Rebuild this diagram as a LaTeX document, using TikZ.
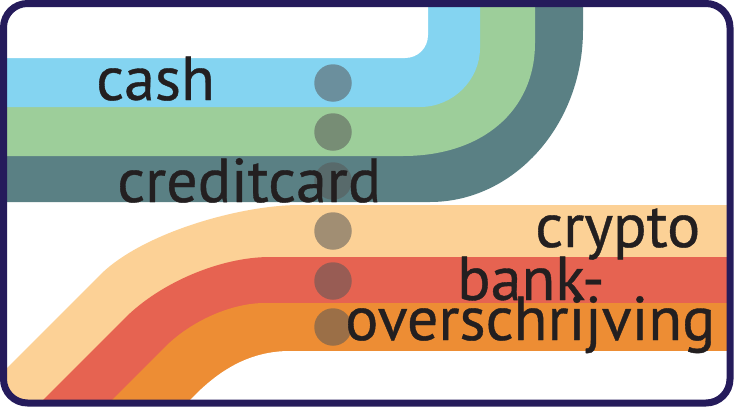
\documentclass[tikz,border=0pt]{standalone}
\usepackage{fontspec}
\setmainfont{PT Sans}
\newfontfamily\lblfont[FakeBold=0.6]{PT Sans}
\definecolor{cashc}{HTML}{84D4F1}
\definecolor{greenc}{HTML}{9DCE9A}
\definecolor{tealc}{HTML}{5A8084}
\definecolor{cryptoc}{HTML}{FCD196}
\definecolor{redc}{HTML}{E66351}
\definecolor{orangec}{HTML}{ED8D34}
\definecolor{framec}{HTML}{251B5B}
\definecolor{dotc}{HTML}{585858}
\definecolor{txtc}{HTML}{231F20}
\tikzset{
  lbl/.style={inner sep=0pt, anchor=base west, text=txtc, font=\lblfont\fontsize{62}{62}\selectfont},
  dotnode/.style={circle, minimum size=37.5pt, inner sep=0pt, fill=dotc, fill opacity=0.55},
  framebox/.style={draw=framec, line width=7pt, rounded corners=24pt}
}
\begin{document}
\begin{tikzpicture}[x=1pt,y=-1pt]
\useasboundingbox (0,0) rectangle (734,407);
\begin{scope}
\clip[rounded corners=24pt] (3.5,3.5) rectangle (730,403);
\fill[white] (0,0) rectangle (734,407);
% top bands
\fill[tealc] (-10,202) -- (430,202) .. controls (514,202) and (583,125) .. (583,30) -- (583,-10) -- (-10,-10) -- cycle;
\fill[greenc] (-10,156) -- (403,156) .. controls (482,156) and (535,111) .. (535,43) -- (535,-10) -- (-10,-10) -- cycle;
\fill[cashc] (-10,107) -- (420,107) .. controls (453,107) and (480,80) .. (480,48) -- (480,-10) -- (-10,-10) -- cycle;
\fill[white] (-10,58) -- (405,58) .. controls (418,58) and (428,48) .. (428,35) -- (428,-10) -- (-10,-10) -- cycle;
% bottom bands
\fill[cryptoc] (744,205) -- (300,205) .. controls (240,205) and (142,233) .. (100,275) -- (-50,425) -- (744,425) -- cycle;
\fill[redc] (744,257) -- (270,257) .. controls (220,257) and (160,283) .. (125,318) -- (0,443) -- (744,443) -- cycle;
\fill[orangec] (744,303) -- (265,303) .. controls (230,303) and (190,322) .. (165,347) -- (80,432) -- (744,432) -- cycle;
\fill[white] (744,351) -- (290,351) .. controls (250,351) and (220,370) .. (195,395) -- (170,420) -- (744,420) -- cycle;
\end{scope}
% dots
\node[dotnode] (d1) at (333,83) {};
\node[dotnode] (d2) at (333,132) {};
\node[dotnode] (d3) at (333,181) {};
\node[dotnode] (d4) at (333,231) {};
\node[dotnode] (d5) at (333,281) {};
\node[dotnode] (d6) at (333,327) {};
% labels
\node[lbl] (cash) at (96,100) {cash};
\node[lbl] (credit) at (117,202) {creditcard};
\node[lbl] (crypto) at (535,247) {crypto};
\node[lbl] (bank) at (457,300) {bank-};
\node[lbl] (over) at (345,340) {overschrijving};
% frame
\draw[framebox] (3.5,3.5) rectangle (730,403);
\end{tikzpicture}
\end{document}
